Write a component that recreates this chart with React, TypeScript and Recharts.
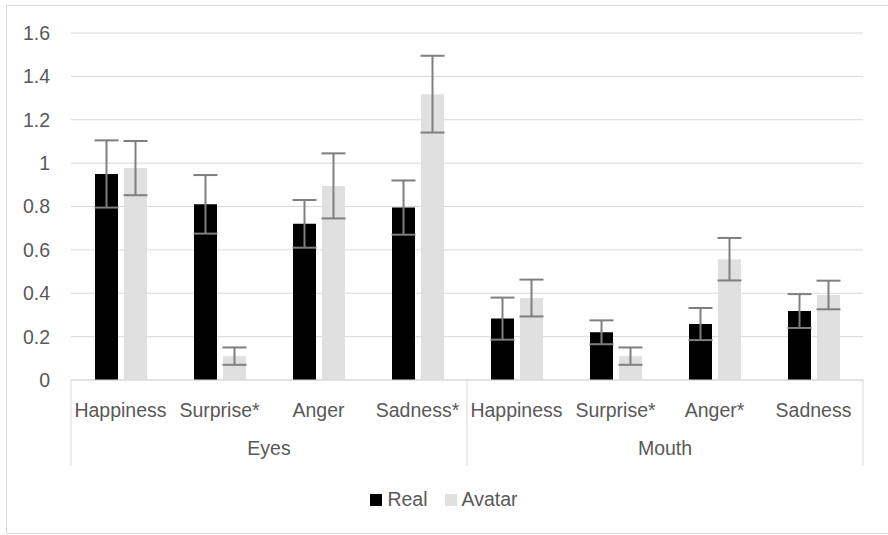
import React from "react";
import {
  BarChart,
  Bar,
  XAxis,
  YAxis,
  CartesianGrid,
  ErrorBar,
  Legend,
} from "recharts";

const EMOTIONS = [
  "Happiness",
  "Surprise*",
  "Anger",
  "Sadness*",
  "Happiness",
  "Surprise*",
  "Anger*",
  "Sadness",
];
const GROUPS = ["Eyes", "Eyes", "Eyes", "Eyes", "Mouth", "Mouth", "Mouth", "Mouth"];

const REAL = [0.95, 0.81, 0.72, 0.795, 0.283, 0.22, 0.258, 0.318];
const REAL_ERR = [0.155, 0.135, 0.11, 0.125, 0.097, 0.055, 0.074, 0.078];
const AVATAR = [0.977, 0.11, 0.895, 1.318, 0.378, 0.11, 0.557, 0.392];
const AVATAR_ERR = [0.125, 0.04, 0.15, 0.177, 0.085, 0.04, 0.098, 0.066];

const Y_TICKS = [0, 0.2, 0.4, 0.6, 0.8, 1, 1.2, 1.4, 1.6];

const data = EMOTIONS.map((emotion, i) => ({
  emotion,
  group: GROUPS[i],
  real: REAL[i],
  realErr: REAL_ERR[i],
  avatar: AVATAR[i],
  avatarErr: AVATAR_ERR[i],
}));

const W = 888;
const H = 535;
const PLOT_LEFT = 71;
const PLOT_RIGHT = 863;
const PLOT_BOTTOM = 380;
const BAND = (PLOT_RIGHT - PLOT_LEFT) / data.length;
const FONT = "'Liberation Sans', Arial, sans-serif";
const TEXT = "#595959";
const LINE = "#d9d9d9";
const FS = 19.5;

// outer axis: group labels + separators between groups
function GroupTick(props: any) {
  const { x, index } = props;
  const g = GROUPS[index];
  const first = index === 0 || GROUPS[index - 1] !== g;
  const last = index === GROUPS.length - 1;
  const size = GROUPS.filter((v) => v === g).length;
  const left = x - BAND / 2;
  return (
    <g>
      {first && (
        <line x1={left} x2={left} y1={PLOT_BOTTOM} y2={466} stroke={LINE} strokeWidth={1} />
      )}
      {last && (
        <line x1={x + BAND / 2} x2={x + BAND / 2} y1={PLOT_BOTTOM} y2={466} stroke={LINE} strokeWidth={1} />
      )}
      {first && (
        <text
          x={left + (size * BAND) / 2}
          y={455}
          textAnchor="middle"
          fill={TEXT}
          fontSize={FS}
          fontFamily={FONT}
        >
          {g}
        </text>
      )}
    </g>
  );
}

function LegendBox() {
  const items = [
    { name: "Real", color: "#000000" },
    { name: "Avatar", color: "#e0e0e0" },
  ];
  return (
    <div
      style={{
        display: "flex",
        justifyContent: "center",
        alignItems: "center",
        gap: 17,
        fontFamily: FONT,
        fontSize: FS,
        color: TEXT,
      }}
    >
      {items.map((it) => (
        <div key={it.name} style={{ display: "flex", alignItems: "center", gap: 5 }}>
          <span style={{ width: 12, height: 12, background: it.color, display: "inline-block" }} />
          <span>{it.name}</span>
        </div>
      ))}
    </div>
  );
}

export default function App() {
  return (
    <div
      style={{
        position: "absolute",
        left: 0,
        top: 0,
        width: W,
        height: H,
        overflow: "hidden",
        background: "#fff",
      }}
    >
      <div
        style={{
          position: "absolute",
          left: 6,
          top: 5,
          width: 900,
          height: 529,
          border: `1px solid ${LINE}`,
          boxSizing: "border-box",
        }}
      />
      <BarChart
        width={W}
        height={H}
        data={data}
        margin={{ top: 33, right: W - PLOT_RIGHT, left: 0, bottom: H - 466 }}
        barCategoryGap={24}
        barGap={6}
      >
        <CartesianGrid vertical={false} stroke={LINE} strokeWidth={1} />
        <YAxis
          domain={[0, 1.6]}
          ticks={Y_TICKS}
          width={PLOT_LEFT}
          axisLine={false}
          tickLine={false}
          tickSize={0}
          tickMargin={21}
          tick={{ fill: TEXT, fontSize: FS, fontFamily: FONT }}
        />
        <XAxis
          xAxisId="emo"
          dataKey="emotion"
          interval={0}
          height={40}
          axisLine={{ stroke: LINE }}
          tickLine={false}
          tickSize={0}
          tickMargin={23}
          tick={{ fill: TEXT, fontSize: FS, fontFamily: FONT }}
        />
        <XAxis
          xAxisId="grp"
          dataKey="group"
          allowDuplicatedCategory
          interval={0}
          height={46}
          axisLine={false}
          tickLine={false}
          tick={<GroupTick />}
        />
        <Legend
          verticalAlign="middle"
          align="center"
          layout="horizontal"
          wrapperStyle={{ top: 488, left: 0, width: W }}
          content={<LegendBox />}
        />
        <Bar xAxisId="emo" dataKey="real" name="Real" fill="#000000" isAnimationActive={false}>
          <ErrorBar dataKey="realErr" width={12} stroke="#7f7f7f" strokeWidth={2} />
        </Bar>
        <Bar xAxisId="emo" dataKey="avatar" name="Avatar" fill="#e0e0e0" isAnimationActive={false}>
          <ErrorBar dataKey="avatarErr" width={12} stroke="#7f7f7f" strokeWidth={2} />
        </Bar>
      </BarChart>
    </div>
  );
}
